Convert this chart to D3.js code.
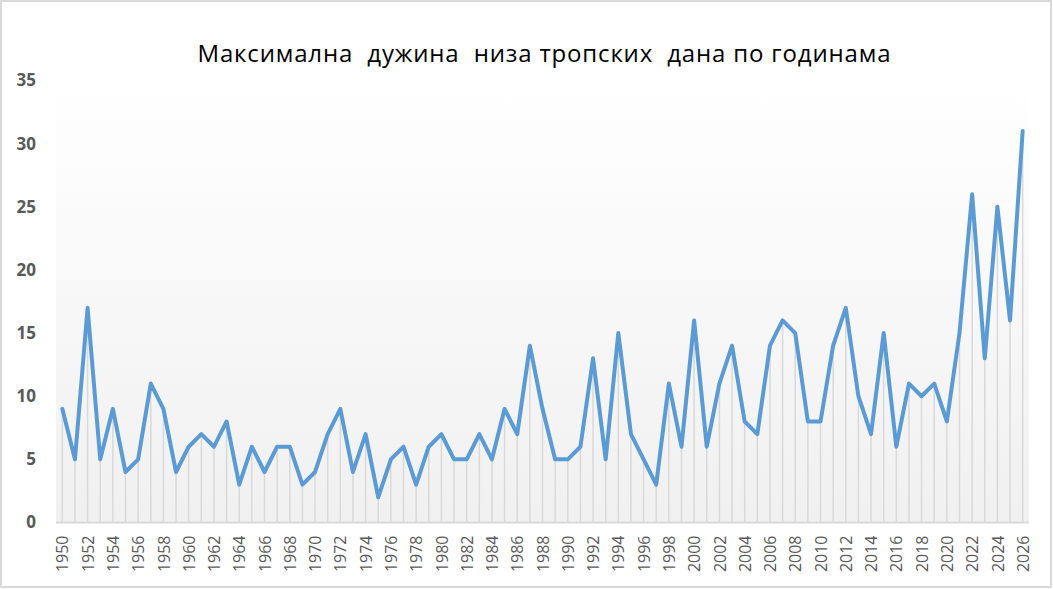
<!DOCTYPE html>
<html>
<head>
<meta charset="utf-8">
<script src="https://cdn.jsdelivr.net/npm/d3@7"></script>
<style>
  body { margin: 0; background: #fff; }
  svg { display: block; }
  text { white-space: pre; }
</style>
</head>
<body>
<div class="view"></div>
<script>
// Data
const years = d3.range(1950, 2027);
const maxRun = [
  9, 5, 17, 5, 9, 4, 5, 11, 9, 4,      // 1950-1959
  6, 7, 6, 8, 3, 6, 4, 6, 6, 3,        // 1960-1969
  4, 7, 9, 4, 7, 2, 5, 6, 3, 6,        // 1970-1979
  7, 5, 5, 7, 5, 9, 7, 14, 9, 5,       // 1980-1989
  5, 6, 13, 5, 15, 7, 5, 3, 11, 6,     // 1990-1999
  16, 6, 11, 14, 8, 7, 14, 16, 15, 8,  // 2000-2009
  8, 14, 17, 10, 7, 15, 6, 11, 10, 11, // 2010-2019
  8, 15, 26, 13, 25, 16, 31            // 2020-2026
];
const yTicks = [0, 5, 10, 15, 20, 25, 30, 35];
const chartTitle = "Максимална  дужина  низа тропских  дана по годинама";

const W = 1053, H = 589;
const plot = {left: 56, right: 1029, top: 80.5, bottom: 522.5};

const svg = d3.select(".view").append("svg")
    .attr("width", W)
    .attr("height", H);

// background gradient for plot area
const grad = svg.append("defs").append("linearGradient")
    .attr("id", "bg").attr("x1", 0).attr("y1", 0).attr("x2", 0).attr("y2", 1);
grad.append("stop").attr("offset", "0%").attr("stop-color", "#ffffff");
grad.append("stop").attr("offset", "100%").attr("stop-color", "#f0f0f0");

// outer border
svg.append("rect")
    .attr("x", 1).attr("y", 1)
    .attr("width", W - 3).attr("height", H - 3)
    .attr("fill", "#fff")
    .attr("stroke", "#d9d9d9")
    .attr("stroke-width", 2);

svg.append("rect")
    .attr("x", plot.left).attr("y", plot.top)
    .attr("width", plot.right - plot.left).attr("height", plot.bottom - plot.top)
    .attr("fill", "url(#bg)");

const x = d3.scalePoint()
    .domain(years)
    .range([plot.left, plot.right])
    .padding(0.5);

const y = d3.scaleLinear()
    .domain([0, 35])
    .range([plot.bottom, plot.top]);

const pts = years.map((yr, i) => ({year: yr, v: maxRun[i]}));

// drop lines
svg.append("g").selectAll("line")
    .data(pts)
    .enter().append("line")
    .attr("x1", d => x(d.year)).attr("x2", d => x(d.year))
    .attr("y1", d => y(d.v)).attr("y2", y(0))
    .attr("stroke", "#d9d9d9")
    .attr("stroke-width", 1.5);

// x axis
const xAxis = svg.append("g")
    .attr("transform", "translate(0," + y(0) + ")")
    .call(d3.axisBottom(x)
        .tickValues(years.filter(d => d % 2 === 0))
        .tickSize(0)
        .tickPadding(0));
xAxis.select(".domain")
    .attr("d", "M" + plot.left + ",0H" + plot.right)
    .attr("stroke", "#d9d9d9")
    .attr("stroke-width", 2);
xAxis.selectAll("text")
    .attr("transform", "rotate(-90)")
    .attr("x", -13).attr("y", 0).attr("dy", "0.35em")
    .style("text-anchor", "end")
    .attr("fill", "#595959")
    .style("font-family", "'Open Sans', sans-serif")
    .style("font-size", "16px");

// y axis
const yAxis = svg.append("g")
    .attr("transform", "translate(" + plot.left + ",0)")
    .call(d3.axisLeft(y).tickValues(yTicks).tickSize(0).tickPadding(20));
yAxis.select(".domain").remove();
yAxis.selectAll("text")
    .attr("fill", "#595959")
    .style("font-family", "'Open Sans', sans-serif")
    .style("font-weight", "bold")
    .style("font-size", "17px");

// series line
svg.append("path")
    .datum(pts)
    .attr("fill", "none")
    .attr("stroke", "#5b9bd5")
    .attr("stroke-width", 4)
    .attr("stroke-linejoin", "round")
    .attr("stroke-linecap", "round")
    .attr("d", d3.line().x(d => x(d.year)).y(d => y(d.v)));

// title
svg.append("text")
    .attr("x", 544).attr("y", 62)
    .attr("text-anchor", "middle")
    .attr("fill", "#000")
    .attr("textLength", 693)
    .attr("lengthAdjust", "spacing")
    .style("font-family", "'Open Sans', sans-serif")
    .style("font-size", "24px")
    .text(chartTitle);
</script>
</body>
</html>
